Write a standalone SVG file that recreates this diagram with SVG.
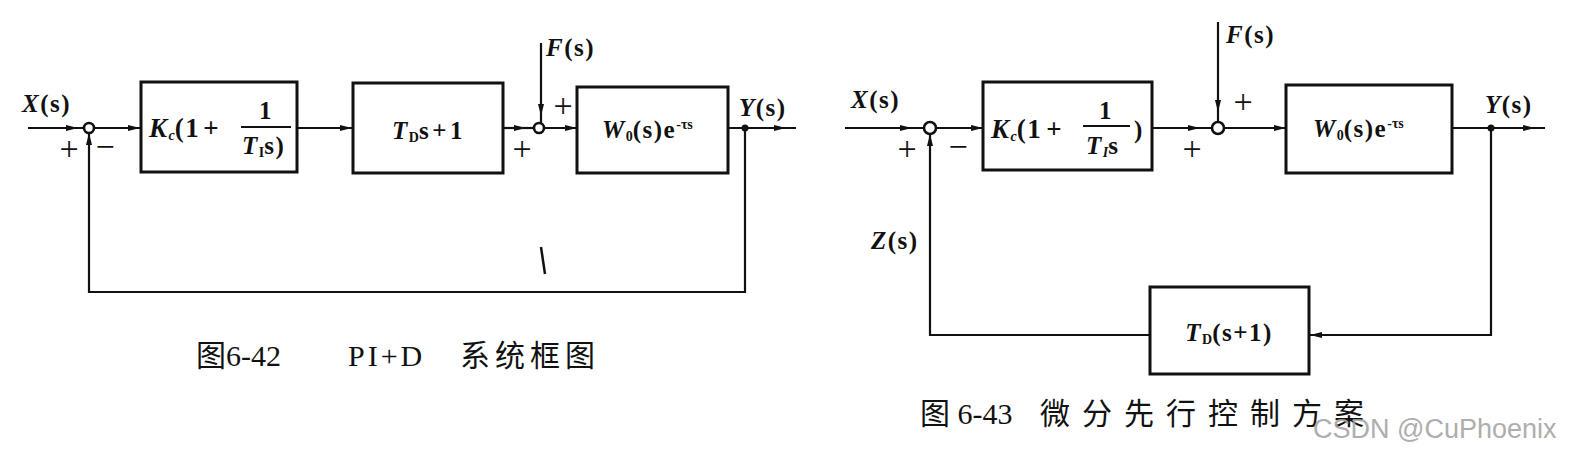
<svg xmlns="http://www.w3.org/2000/svg" width="1570" height="457" viewBox="0 0 1570 457">
<style>
.blk{fill:none;stroke:#111;stroke-width:3}
.ln{fill:none;stroke:#111;stroke-width:2.2}
.sum{fill:#fff;stroke:#111;stroke-width:2.6}
.dot{fill:#111}
.m{font-family:"Liberation Serif",serif;font-weight:bold;font-size:25px;letter-spacing:1.5px;fill:#111}
.k{font-size:27px}
.i{font-style:italic}
.sub{font-size:14px;letter-spacing:0}
.sg{font-family:"Liberation Serif",serif;font-size:34px;fill:#111}
.cap{font-family:"Liberation Serif","Noto Sans CJK SC",serif;font-size:30px;fill:#111}
.wm{font-family:"Liberation Sans",sans-serif;font-size:27px;fill:#a0a0a0;opacity:0.85}
</style>
<defs>
<marker id="a" viewBox="0 0 12 6" refX="12" refY="3" markerWidth="12" markerHeight="6" markerUnits="userSpaceOnUse" orient="auto">
<path d="M0,0 L12,3 L0,6 z" fill="#111"/>
</marker>
</defs>
<rect width="1570" height="457" fill="#fff"/>

<g id="connectors">
<path class="ln" d="M28,128 L78,128 L84,128" marker-mid="url(#a)"/>
<path class="ln" d="M94,128 L140,128" marker-end="url(#a)"/>
<path class="ln" d="M297,128 L352,128" marker-end="url(#a)"/>
<path class="ln" d="M503,128 L526,128 L534,128" marker-mid="url(#a)"/>
<path class="ln" d="M541,43 L541,116 L541,123" marker-mid="url(#a)"/>
<path class="ln" d="M544,128 L577,128" marker-end="url(#a)"/>
<path class="ln" d="M728,128 L786,128 L796,128" marker-mid="url(#a)"/>
<path class="ln" d="M745,128 L745,292 L89,292 L89,133" marker-end="url(#a)"/>
<path class="ln" d="M845,128 L912,128 L924,128" marker-mid="url(#a)"/>
<path class="ln" d="M936,128 L983,128" marker-end="url(#a)"/>
<path class="ln" d="M1152,128 L1200,128 L1212,128" marker-mid="url(#a)"/>
<path class="ln" d="M1218,22 L1218,112 L1218,122" marker-mid="url(#a)"/>
<path class="ln" d="M1224,128 L1286,128" marker-end="url(#a)"/>
<path class="ln" d="M1452,128 L1535,128 L1545,128" marker-mid="url(#a)"/>
<path class="ln" d="M1491,128 L1491,335 L1310,335" marker-end="url(#a)"/>
<path class="ln" d="M1150,335 L930,335 L930,134" marker-end="url(#a)"/>
</g>

<g id="left-diagram">
<g id="sum1L">
<circle class="sum" cx="89" cy="128" r="5"/>
<text class="sg" x="69" y="160" text-anchor="middle">+</text>
<text class="sg" x="105" y="158" text-anchor="middle">−</text>
</g>
<text class="m" x="22" y="112"><tspan class="i">X</tspan>(s)</text>
<g id="PI-L">
<rect class="blk" x="141" y="82" width="156" height="90"/>
<text class="m k" x="149" y="137"><tspan class="i">K</tspan><tspan class="i sub" dy="3">c</tspan><tspan dy="-3">(1</tspan><tspan dx="3">+</tspan></text>
<text class="m" x="266" y="119" text-anchor="middle">1</text>
<line class="ln" x1="241" y1="127" x2="291" y2="127"/>
<text class="m" x="242" y="154"><tspan class="i">T</tspan><tspan class="sub" dy="3">I</tspan><tspan dy="-3">s)</tspan></text>
</g>
<g id="D-L">
<rect class="blk" x="353" y="83" width="150" height="90"/>
<text class="m" x="428" y="139" text-anchor="middle" font-size="29"><tspan class="i">T</tspan><tspan class="sub" dy="3">D</tspan><tspan dy="-3">s</tspan><tspan dx="2">+</tspan><tspan dx="2">1</tspan></text>
</g>
<g id="sum2L">
<circle class="sum" cx="539" cy="128" r="5"/>
<text class="sg" x="522" y="160" text-anchor="middle">+</text>
<text class="sg" x="563" y="117" text-anchor="middle">+</text>
</g>
<text class="m" x="546" y="56"><tspan class="i">F</tspan>(s)</text>
<g id="W-L">
<rect class="blk" x="577" y="87" width="151" height="86"/>
<text class="m" x="602" y="138"><tspan class="i">W</tspan><tspan class="sub" dy="3">0</tspan><tspan dy="-3">(s)e</tspan><tspan class="sub" dy="-9">-τs</tspan></text>
</g>
<circle class="dot" cx="745" cy="128" r="3.5"/>
<text class="m" x="739" y="116"><tspan class="i">Y</tspan>(s)</text>
<line x1="541" y1="247" x2="545" y2="274" stroke="#111" stroke-width="2.5"/>
<text class="cap" x="196" y="366">图6-42<tspan x="348" letter-spacing="3">PI+D</tspan><tspan x="460" letter-spacing="5">系统框图</tspan></text>
</g>

<g id="right-diagram">
<g id="sum1R">
<circle class="sum" cx="930" cy="128" r="6"/>
<text class="sg" x="907" y="160" text-anchor="middle">+</text>
<text class="sg" x="958" y="158" text-anchor="middle">−</text>
</g>
<text class="m" x="851" y="108"><tspan class="i">X</tspan>(s)</text>
<g id="PI-R">
<rect class="blk" x="983" y="82" width="169" height="88"/>
<text class="m k" x="991" y="138"><tspan class="i">K</tspan><tspan class="i sub" dy="3">c</tspan><tspan dy="-3">(1</tspan><tspan dx="4">+</tspan></text>
<text class="m" x="1106" y="119" text-anchor="middle">1</text>
<line class="ln" x1="1083" y1="126" x2="1130" y2="126"/>
<text class="m" x="1086" y="154"><tspan class="i">T</tspan><tspan class="sub i" dy="3">I</tspan><tspan dy="-3">s</tspan></text>
<text class="m" x="1134" y="138">)</text>
</g>
<g id="sum2R">
<circle class="sum" cx="1218" cy="128" r="6"/>
<text class="sg" x="1192" y="160" text-anchor="middle">+</text>
<text class="sg" x="1243" y="113" text-anchor="middle">+</text>
</g>
<text class="m" x="1226" y="43"><tspan class="i">F</tspan>(s)</text>
<g id="W-R">
<rect class="blk" x="1286" y="85" width="166" height="88"/>
<text class="m" x="1313" y="137" letter-spacing="2.5"><tspan class="i">W</tspan><tspan class="sub" dy="3">0</tspan><tspan dy="-3">(s)e</tspan><tspan class="sub" dy="-9">-τs</tspan></text>
</g>
<circle class="dot" cx="1491" cy="128" r="3.5"/>
<text class="m" x="1485" y="113"><tspan class="i">Y</tspan>(s)</text>
<text class="m" x="871" y="249" font-size="22"><tspan class="i">Z</tspan>(s)</text>
<g id="TD-R">
<rect class="blk" x="1150" y="287" width="159" height="87"/>
<text class="m" x="1229" y="341" text-anchor="middle"><tspan class="i">T</tspan><tspan class="sub" dy="3">D</tspan><tspan dy="-3">(s+1)</tspan></text>
</g>
<text class="cap" x="920" y="424" font-size="31">图 6-43<tspan x="1040" letter-spacing="12">微分先行控制方案</tspan></text>
</g>
<text class="wm" x="1313" y="438">CSDN @CuPhoenix</text>
</svg>
